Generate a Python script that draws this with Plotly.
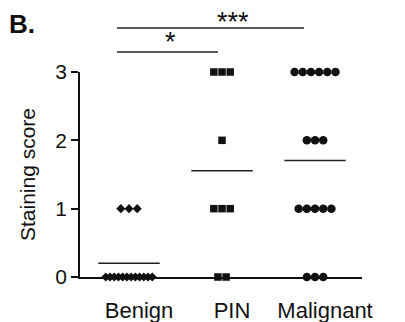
import numpy as np
import plotly.graph_objects as go

categories = ["Benign", "PIN", "Malignant"]
benign_scores = [0, 0, 0, 0, 0, 0, 0, 0, 0, 0, 0, 0, 1, 1, 1]
pin_scores = [0, 0, 1, 1, 1, 2, 3, 3, 3]
malignant_scores = [0, 0, 0, 1, 1, 1, 1, 1, 2, 2, 2, 3, 3, 3, 3, 3, 3]
y_ticks = [0, 1, 2, 3]
sig_labels = ["*", "***"]

groups = [benign_scores, pin_scores, malignant_scores]
symbols = ["diamond", "square", "circle"]
sizes = [7, 7.5, 8.5]
FONT = "Liberation Sans, Arial, sans-serif"
INK = "#111111"

fig = go.Figure()

for gi, (scores, sym, sz) in enumerate(zip(groups, symbols, sizes)):
    arr = np.array(scores)
    xs, ys = [], []
    for v in sorted(set(scores)):
        n = int((arr == v).sum())
        step = 0.088 if n < 2 else min(0.088, 0.5 / (n - 1))
        for i in range(n):
            xs.append(gi + (i - (n - 1) / 2) * step)
            ys.append(v)
    fig.add_trace(go.Scatter(x=xs, y=ys, mode="markers", cliponaxis=False,
                             marker=dict(symbol=sym, size=sz, color=INK, line=dict(width=0)),
                             showlegend=False, hoverinfo="skip"))
    m = float(arr.mean())
    fig.add_trace(go.Scatter(x=[gi - 0.33, gi + 0.33], y=[m, m], mode="lines",
                             cliponaxis=False, line=dict(color="#222222", width=1.5),
                             showlegend=False, hoverinfo="skip"))

# page has an 8px body margin; plot area in page pixels: x 80..362, y 72..277
def px2x(px):
    return (px - 80) / 282.0

def py2y(py):
    return (277 - py) / 205.0

bars = [(117, 218, 52, 170, 42), (117, 304, 28, 233, 22)]
for (x0, x1, yb, xt, yt), lab in zip(bars, sig_labels):
    fig.add_shape(type="line", xref="paper", yref="paper",
                  x0=px2x(x0), x1=px2x(x1), y0=py2y(yb), y1=py2y(yb),
                  line=dict(color="#222222", width=1.5))
    fig.add_annotation(text=lab, xref="paper", yref="paper", x=px2x(xt), y=py2y(yt),
                       xanchor="center", yanchor="middle", showarrow=False, borderpad=0,
                       font=dict(family=FONT, size=27, color=INK))

fig.add_annotation(text="<b>B.</b>", xref="paper", yref="paper", x=px2x(8), y=py2y(8.5),
                   xanchor="left", yanchor="top", showarrow=False, borderpad=0,
                   font=dict(family=FONT, size=26, color=INK))

fig.update_layout(
    width=397, height=314,
    margin=dict(l=72, r=43, t=64, b=45, pad=0, autoexpand=False),
    paper_bgcolor="white", plot_bgcolor="white",
    font=dict(family=FONT, color=INK),
    xaxis=dict(range=[-0.527, 2.505], tickvals=[0, 1, 2], ticktext=categories,
               showgrid=False, zeroline=False, showline=True, linecolor=INK, linewidth=1.5,
               ticks="", tickfont=dict(size=22, color=INK), ticklabelstandoff=13,
               ticklabelshift=10, fixedrange=True, automargin=False),
    yaxis=dict(range=[0, 3], tickvals=y_ticks, showgrid=False, zeroline=False,
               showline=True, linecolor=INK, linewidth=1.5, ticks="outside", ticklen=7,
               tickwidth=1.5, tickcolor=INK, tickfont=dict(size=21, color=INK),
               title=dict(text="Staining score", font=dict(size=21, color=INK), standoff=14),
               fixedrange=True, automargin=False),
)

fig.write_html("out.html")
